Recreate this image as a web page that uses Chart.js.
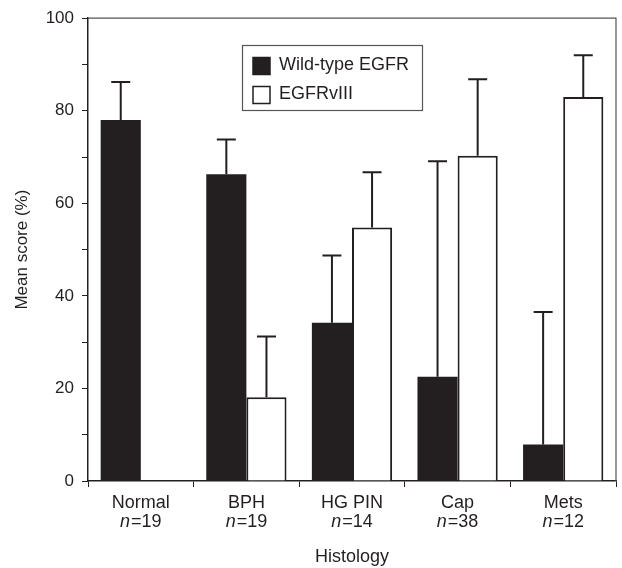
<!DOCTYPE html>
<html>
<head>
<meta charset="utf-8">
<script src="https://cdn.jsdelivr.net/npm/chart.js@4/dist/chart.umd.min.js"></script>
<style>
  body { margin: 0; background: #fff; }
</style>
</head>
<body>
<canvas id="chart" width="622" height="568"></canvas>
<script>
// histology groups and sample sizes
var categories = ['Normal', 'BPH', 'HG PIN', 'Cap', 'Mets'];
var groupN = [19, 19, 14, 38, 12];

// mean score (%) and upward error (SD)
var wildType = [78, 66.3, 34.2, 22.5, 7.9];
var wildTypeErr = [8.2, 7.5, 14.5, 46.6, 28.6];
var egfrVIII = [0, 18.1, 54.8, 70.3, 83.0];
var egfrVIIIErr = [0, 13.1, 11.9, 16.5, 9.0];

var yTicks = [0, 20, 40, 60, 80, 100];

var FONT = "'Liberation Sans', Arial, sans-serif";
var INK = '#231f20';
Chart.defaults.font.family = FONT;
Chart.defaults.font.size = 17;
Chart.defaults.color = INK;

var errorBars = {
    id: 'errorBars',
    afterDatasetsDraw: function (chart) {
        var ctx = chart.ctx;
        var yScale = chart.scales.y;
        ctx.save();
        ctx.strokeStyle = INK;
        ctx.lineWidth = 2;
        chart.data.datasets.forEach(function (ds, i) {
            var meta = chart.getDatasetMeta(i);
            meta.data.forEach(function (bar, j) {
                var err = ds.errors[j];
                if (!err) return;
                var top = yScale.getPixelForValue(ds.data[j] + err);
                ctx.beginPath();
                ctx.moveTo(bar.x, bar.y);
                ctx.lineTo(bar.x, top);
                ctx.moveTo(bar.x - 9.5, top);
                ctx.lineTo(bar.x + 9.5, top);
                ctx.stroke();
            });
        });
        ctx.restore();
    }
};

// second tick line: italic n, then "=count"
var nLabels = {
    id: 'nLabels',
    afterDraw: function (chart) {
        var ctx = chart.ctx;
        var xs = chart.scales.x;
        ctx.save();
        ctx.fillStyle = INK;
        ctx.textBaseline = 'middle';
        ctx.textAlign = 'left';
        groupN.forEach(function (n, i) {
            var x = xs.getPixelForTick(i);
            var y = 522;
            ctx.font = 'italic 18px ' + FONT;
            var w1 = ctx.measureText('n').width;
            ctx.font = '18px ' + FONT;
            var rest = '=' + n;
            var w2 = ctx.measureText(rest).width;
            var x0 = x - (w1 + w2 + 1) / 2;
            ctx.font = 'italic 18px ' + FONT;
            ctx.fillText('n', x0, y);
            ctx.font = '18px ' + FONT;
            ctx.fillText(rest, x0 + w1 + 1, y);
        });
        ctx.restore();
    }
};

var frame = {
    id: 'frame',
    afterDraw: function (chart) {
        var a = chart.chartArea;
        var ctx = chart.ctx;
        ctx.save();
        ctx.strokeStyle = '#555';
        ctx.lineWidth = 1.2;
        ctx.beginPath();
        ctx.moveTo(a.left, a.top);
        ctx.lineTo(a.right, a.top);
        ctx.lineTo(a.right, a.bottom);
        ctx.stroke();
        ctx.restore();
    }
};

var boxLegend = {
    id: 'boxLegend',
    afterDraw: function (chart) {
        var ctx = chart.ctx;
        ctx.save();
        ctx.fillStyle = '#fff';
        ctx.fillRect(242.5, 45.5, 180, 65);
        ctx.strokeStyle = '#555';
        ctx.lineWidth = 1.2;
        ctx.strokeRect(242.5, 45.5, 180, 65);
        ctx.font = '18px ' + FONT;
        ctx.textBaseline = 'middle';
        chart.data.datasets.forEach(function (ds, i) {
            var y = 57.5 + i * 29;
            ctx.fillStyle = ds.backgroundColor;
            ctx.fillRect(253, y, 17, 17);
            ctx.strokeStyle = INK;
            ctx.lineWidth = 1.5;
            ctx.strokeRect(253, y, 17, 17);
            ctx.fillStyle = INK;
            ctx.fillText(ds.label, 279, y + 8);
        });
        ctx.restore();
    }
};

new Chart(document.getElementById('chart'), {
    type: 'bar',
    data: {
        labels: categories,
        datasets: [{
            label: 'Wild-type EGFR',
            data: wildType,
            errors: wildTypeErr,
            backgroundColor: INK,
            borderColor: INK,
            borderWidth: 0
        }, {
            label: 'EGFRvIII',
            data: egfrVIII,
            errors: egfrVIIIErr,
            backgroundColor: '#ffffff',
            borderColor: INK,
            borderWidth: 2
        }]
    },
    options: {
        responsive: false,
        animation: false,
        categoryPercentage: 0.76,
        barPercentage: 1,
        layout: { padding: { top: 15, right: 6, left: 0, bottom: 0 } },
        plugins: {
            legend: { display: false },
            tooltip: { enabled: false }
        },
        scales: {
            x: {
                grid: { drawOnChartArea: false, tickLength: 6, color: INK, lineWidth: 1 },
                border: { color: INK, width: 1.5 },
                ticks: {
                    padding: 5,
                    maxRotation: 0,
                    font: { size: 18 },
                    callback: function (v, i) { return [categories[i], ' ']; }
                },
                title: { display: true, text: 'Histology', font: { size: 18 }, padding: { top: 0, bottom: 0 } },
                afterFit: function (s) { s.height = 87; }
            },
            y: {
                min: 0,
                max: 100,
                grid: { drawOnChartArea: false, tickLength: 6, color: INK, lineWidth: 1 },
                border: { color: INK, width: 1.5 },
                ticks: {
                    stepSize: 10,
                    padding: 8,
                    callback: function (v) { return yTicks.indexOf(v) >= 0 ? v : ''; }
                },
                title: { display: true, text: 'Mean score (%)', padding: { top: 12, bottom: 0 } },
                afterFit: function (s) { s.width = 88; }
            }
        }
    },
    plugins: [errorBars, nLabels, frame, boxLegend]
});
</script>
</body>
</html>
